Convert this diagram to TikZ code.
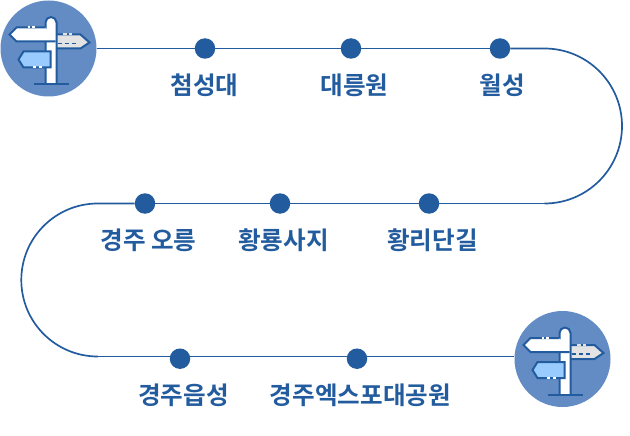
\documentclass[tikz,border=0pt]{standalone}
\usepackage{fontspec}
\setmainfont{Noto Sans CJK KR}[BoldFont={Noto Sans CJK KR Bold}]
\definecolor{routeblue}{HTML}{235C9E}
\definecolor{discblue}{HTML}{638CC5}
\definecolor{signblue}{HTML}{99CBFF}
\definecolor{signgrey}{HTML}{E3E3E3}

\tikzset{
  stopdot/.style={circle, fill=routeblue, minimum size=20.5pt, inner sep=0pt},
  stoplabel/.style={text=routeblue, font=\fontsize{24.6}{24.6}\selectfont\bfseries, inner sep=0pt},
  routeline/.style={draw=routeblue, line width=1.7pt},
  signdisc/.style={circle, fill=discblue, minimum size=96pt, inner sep=0pt},
  signline/.style={draw=routeblue, line width=2pt, line join=miter},
  signpost/.pic={
    % grey board on the right
    \draw [signline, fill=signgrey] (8,-14) -- (32,-14) -- (41,-6) -- (32,0) -- (8,0);
    \draw [signgrey, line width=2pt] (14,-14) -- (18,-14) (20,-14) -- (23,-14);
    \draw [routeline, dashed, dash pattern=on 4pt off 3pt] (9,-5) -- (29,-5);
    % the post
    \draw [signline, fill=white] (-3,36) -- (-3,-26) arc [start angle=180, end angle=360, radius=5.5] -- (8,36);
    \draw [signline] (-15,36) -- (20,36);
    % white board on the left
    \draw [signline, fill=white] (-3,-21) -- (-32,-21) -- (-39,-14) -- (-32,-7) -- (7,-7);
    \draw [white, line width=2pt] (-21,-21) -- (-19,-21) (-17,-21) -- (-14,-21);
    % blue board below
    \draw [signline, fill=signblue] (2,3) -- (-25,3) -- (-30,11) -- (-25,19) -- (2,19) -- cycle;
    \draw [white, line width=2pt] (-16,19) -- (-13,19) (-10,19) -- (-7,19);
  }
}

\begin{document}
\begin{tikzpicture}[x=1pt, y=-1pt]
  \useasboundingbox (0, 0) rectangle (630, 436);

  \node [signdisc] (start) at (48.5, 48.5) {};
  \node [signdisc] (goal) at (562.5, 359) {};

  \node [stopdot] (cheomseong) at (205, 48.5) {};
  \node [stopdot] (daereung) at (351, 48.5) {};
  \node [stopdot] (wolseong) at (500, 48.5) {};
  \node [stopdot] (hwangni) at (429, 203.5) {};
  \node [stopdot] (hwangnyong) at (280, 203.5) {};
  \node [stopdot] (oreung) at (145, 203.5) {};
  \node [stopdot] (eupseong) at (180, 358.7) {};
  \node [stopdot] (expo) at (357, 358.7) {};

  \coordinate (turnA) at (544.5, 48.5);
  \coordinate (turnB) at (544.5, 203.5);
  \coordinate (turnC) at (97.8, 203.5);
  \coordinate (turnD) at (97.8, 356.5);

  \draw [routeline] (start) -- (cheomseong);
  \draw [routeline] (cheomseong) -- (daereung);
  \draw [routeline] (daereung) -- (wolseong);
  \draw [routeline] (wolseong) -- (turnA) arc [start angle=-90, end angle=90, radius=77.5];
  \draw [routeline] (turnB) -- (hwangni);
  \draw [routeline] (hwangni) -- (hwangnyong);
  \draw [routeline] (hwangnyong) -- (oreung);
  \draw [routeline] (oreung) -- (turnC) arc [start angle=-90, end angle=-270, radius=76.5];
  \draw [routeline] (turnD) -- (eupseong.west |- turnD);
  \draw [routeline] (eupseong.east |- turnD) -- (expo.west |- turnD);
  \draw [routeline] (expo.east |- turnD) -- (goal.west |- turnD);

  \pic at (start) {signpost};
  \pic at (goal) {signpost};

  \node [stoplabel] (cheomseongtext) at (204.5, 85.5) {첨성대};
  \node [stoplabel] (daereungtext) at (354.5, 85.5) {대릉원};
  \node [stoplabel] (wolseongtext) at (502.5, 85.5) {월성};
  \node [stoplabel] (hwangnitext) at (432.5, 240.5) {황리단길};
  \node [stoplabel] (hwangnyongtext) at (283.5, 240.5) {황룡사지};
  \node [stoplabel] (oreungtext) at (148.5, 240.5) {경주 오릉};
  \node [stoplabel] (eupseongtext) at (183.5, 395.5) {경주읍성};
  \node [stoplabel] (expotext) at (360.5, 395.5) {경주엑스포대공원};
\end{tikzpicture}
\end{document}
